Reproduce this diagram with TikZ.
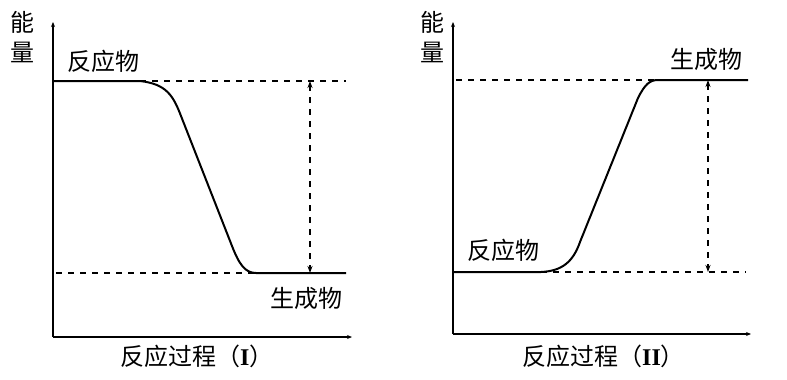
\documentclass[tikz,border=0pt]{standalone}
\usepackage{fontspec}
\newfontfamily\cjk{Noto Sans CJK SC}
\newfontfamily\rom{Liberation Serif}
\usetikzlibrary{arrows.meta}
\begin{document}
\begin{tikzpicture}[x=1pt,y=-1pt,
  axis/.style={line width=1.2pt,-{Stealth[length=5pt,width=4pt]}},
  level/.style={line width=2pt},
  dashline/.style={line width=1.7pt,dash pattern=on 6pt off 6pt},
  gap/.style={line width=1.6pt,dash pattern=on 6pt off 6pt,{Stealth[length=7pt,width=5pt]}-{Stealth[length=7pt,width=5pt]}},
  lab/.style={font=\cjk\fontsize{24}{26}\selectfont,inner sep=0pt}]
\useasboundingbox (0,0) rectangle (787,380);
% ---------- panel I ----------
\coordinate (o1) at (53,337);
\coordinate (y1) at (53,22);
\coordinate (x1) at (352,337);
\draw[axis] (o1) -- (y1);
\draw[axis] (o1) -- (x1);
\node[lab] (e1a) at (22,22) {能};
\node[lab] (e1b) at (22,52) {量};
\coordinate (r1s) at (53,81);
\coordinate (r1e) at (140,81);
\coordinate (p1s) at (256,273);
\coordinate (p1e) at (346,273);
\draw[level] (r1s) -- (r1e) .. controls (166,84) and (173,95) .. (181,116)
  -- (232,246) .. controls (239,264) and (245,273) .. (p1s) -- (p1e);
\draw[dashline] (r1e) -- (346,81);
\draw[dashline] (56,273) -- (p1s);
\coordinate (a1t) at (310,81);
\coordinate (a1b) at (310,273);
\draw[gap] (a1t) -- (a1b);
\node[lab] (r1) at (103,61) {反应物};
\node[lab] (p1) at (306,298) {生成物};
\node[lab,anchor=west] (t1) at (120,356) {反应过程（{\rom\bfseries I}）};
% ---------- panel II ----------
\coordinate (o2) at (453,334);
\coordinate (y2) at (453,22);
\coordinate (x2) at (751,334);
\draw[axis] (o2) -- (y2);
\draw[axis] (o2) -- (x2);
\node[lab] (e2a) at (432,22) {能};
\node[lab] (e2b) at (432,52) {量};
\coordinate (r2s) at (453,272);
\coordinate (r2e) at (541,272);
\coordinate (p2s) at (658,80);
\coordinate (p2e) at (748,80);
\draw[level] (r2s) -- (r2e) .. controls (562,271) and (573,262) .. (580,242)
  -- (638,98) .. controls (645,84) and (650,80) .. (p2s) -- (p2e);
\draw[dashline] (456,80) -- (p2s);
\draw[dashline] (r2e) -- (746,272);
\coordinate (a2t) at (708,80);
\coordinate (a2b) at (708,272);
\draw[gap] (a2t) -- (a2b);
\node[lab] (r2) at (503,250) {反应物};
\node[lab] (p2) at (706,59) {生成物};
\node[lab,anchor=west] (t2) at (522,356) {反应过程（{\rom\bfseries II}）};
\end{tikzpicture}
\end{document}
